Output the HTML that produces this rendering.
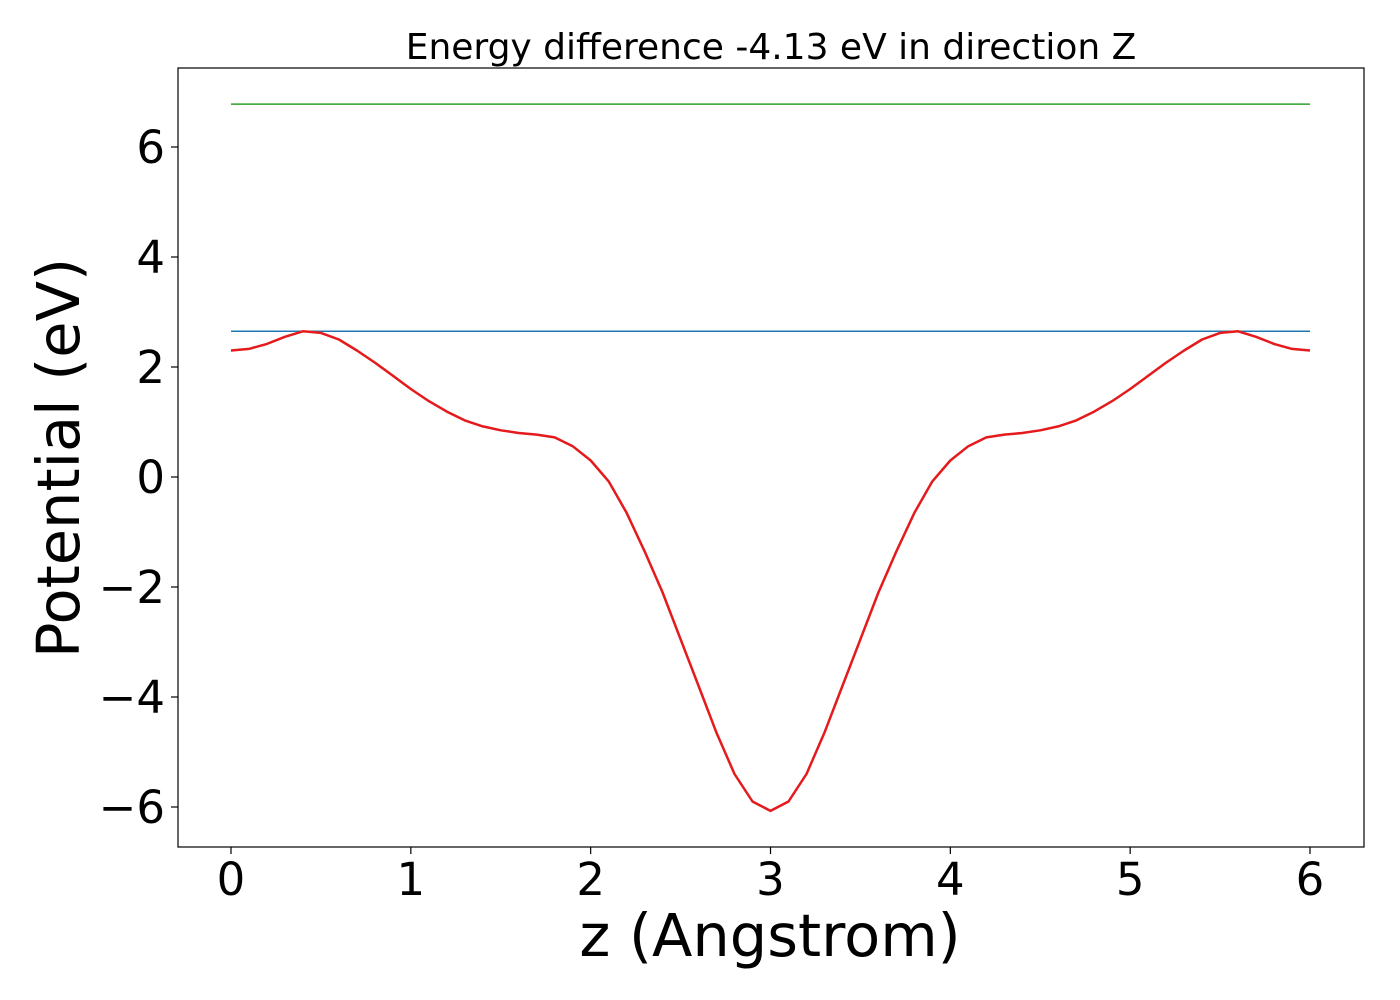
<!DOCTYPE html>
<html><head><meta charset="utf-8"><style>
html,body{margin:0;padding:0;background:#fff;}
svg{display:block;font-family:"DejaVu Sans","Liberation Sans",sans-serif;}
</style></head><body>
<svg id="chart" width="1400" height="1000" viewBox="0 0 1400 1000">
<rect width="1400" height="1000" fill="#fff"/>
<text x="771" y="59" font-size="36" text-anchor="middle">Energy difference -4.13 eV in direction Z</text>
<g id="plot"></g>
<rect x="178" y="68" width="1186" height="779" fill="none" stroke="#000" stroke-width="1.2"/>
<text x="770" y="956" font-size="59" text-anchor="middle">z (Angstrom)</text>
<text transform="translate(79,458) rotate(-90)" font-size="59" text-anchor="middle">Potential (eV)</text>
</svg>
<script>
const xTicks=[0,1,2,3,4,5,6];
const yTicks=[6,4,2,0,-2,-4,-6];
const yTickLabels=["6","4","2","0","\u22122","\u22124","\u22126"];
const zValues=[0,0.1,0.2,0.3,0.4,0.5,0.6,0.7,0.8,0.9,1.0,1.1,1.2,1.3,1.4,1.5,1.6,1.7,1.8,1.9,2.0,2.1,2.2,2.3,2.4,2.5,2.6,2.7,2.8,2.9,3.0,3.1,3.2,3.3,3.4,3.5,3.6,3.7,3.8,3.9,4.0,4.1,4.2,4.3,4.4,4.5,4.6,4.7,4.8,4.9,5.0,5.1,5.2,5.3,5.4,5.5,5.6,5.7,5.8,5.9,6.0];
const potential=[2.3,2.33,2.42,2.55,2.65,2.62,2.5,2.3,2.08,1.84,1.6,1.38,1.19,1.03,0.92,0.85,0.8,0.77,0.72,0.56,0.3,-0.08,-0.65,-1.35,-2.1,-2.95,-3.8,-4.65,-5.4,-5.9,-6.07,-5.9,-5.4,-4.65,-3.8,-2.95,-2.1,-1.35,-0.65,-0.08,0.3,0.56,0.72,0.77,0.8,0.85,0.92,1.03,1.19,1.38,1.6,1.84,2.08,2.3,2.5,2.62,2.65,2.55,2.42,2.33,2.3];
const blueLevel=[2.65];
const greenLevel=[6.78];
const xMin=0,xMax=6;
function sx(v){return 231+(v-0)*(1310-231)/6;}
function sy(v){return 477-v*55;}
const NS="http://www.w3.org/2000/svg";
const g=document.getElementById("plot");
function mk(t,a){const e=document.createElementNS(NS,t);for(const k in a)e.setAttribute(k,a[k]);g.appendChild(e);return e;}
xTicks.forEach(v=>{
  const l=mk("line",{x1:sx(v),x2:sx(v),y1:847,y2:854,stroke:"#000","stroke-width":1.2});
  
  
  const t=mk("text",{x:sx(v),y:895,"font-size":45,"text-anchor":"middle"});
  t.textContent=String(v);
  
  
});
yTicks.forEach((v,i)=>{
  const l=mk("line",{x1:171,x2:178,y1:sy(v),y2:sy(v),stroke:"#000","stroke-width":1.2});
  
  
  const t=mk("text",{x:165,y:sy(v)+16,"font-size":45,"text-anchor":"end"});
  t.textContent=yTickLabels[i];
  
  
});
const gl=mk("line",{x1:sx(xMin),x2:sx(xMax),y1:sy(greenLevel[0]),y2:sy(greenLevel[0]),stroke:"#2ca02c","stroke-width":1.5});


const bl=mk("line",{x1:sx(xMin),x2:sx(xMax),y1:sy(blueLevel[0]),y2:sy(blueLevel[0]),stroke:"#1f77b4","stroke-width":1.5});


const pts=zValues.map((z,i)=>sx(z).toFixed(1)+","+sy(potential[i]).toFixed(1)).join(" ");
const pl=mk("polyline",{points:pts,fill:"none",stroke:"#e41a1c","stroke-width":2.5,"stroke-linejoin":"round"});


</script>
</body></html>
